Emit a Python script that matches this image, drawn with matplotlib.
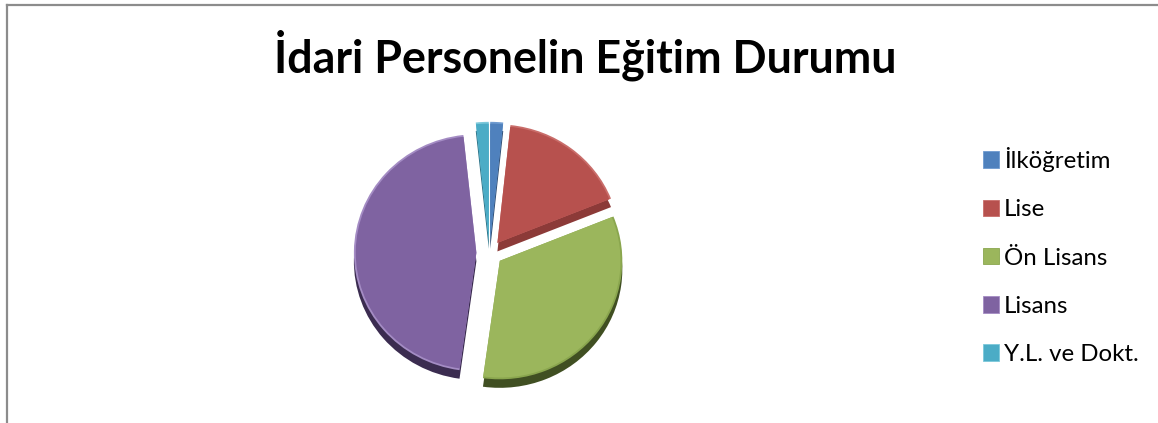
import matplotlib
matplotlib.use("Agg")
import matplotlib.pyplot as plt
from matplotlib.patches import Patch
from matplotlib.lines import Line2D

plt.rcParams['font.family'] = ['Lato', 'DejaVu Sans']

title = "İdari Personelin Eğitim Durumu"
categories = ["İlköğretim", "Lise", "Ön Lisans", "Lisans", "Y.L. ve Dokt."]
values = [1.7, 17.2, 33.3, 46.1, 1.7]
colors = ["#4f81bd", "#b7514e", "#9bb65c", "#7f63a1", "#4bacc6"]
rims = ["#6f9bd0", "#c96d6a", "#8aa64e", "#a48cc4", "#7cc8da"]
shadows = ["#2f4d73", "#8c3a38", "#404f22", "#3b2c50", "#2a7186"]
explode = [0.107] * 5

W, H = 1158, 423
fig = plt.figure(figsize=(W / 100, H / 100), dpi=100)
fig.patch.set_facecolor("white")

ax = fig.add_axes([0, 0, 1, 1])
rx, ry = 122.5, 118.5
cx, cy = 489.5, 253.0

def layer(cols, dy=0.0, radius=1.0):
    ax.pie(values, explode=explode, colors=cols, startangle=90, counterclock=False,
           radius=radius, center=(0, dy), wedgeprops=dict(linewidth=0))
    ax.set_aspect("auto")

# extruded edge, then rim, then the face of the pie
layer(shadows, dy=-0.072)
layer(rims)
layer(colors, radius=0.985)

ax.set_xlim(-cx / rx, (W - cx) / rx)
ax.set_ylim(-(H - cy) / ry, cy / ry)
ax.axis("off")

# chart-area border: only top and left sides are visible
fig.add_artist(Line2D([7.5 / W, 7.5 / W], [0, 1 - 5 / H], color="#8c8c8c", lw=1.6))
fig.add_artist(Line2D([7 / W, 1], [1 - 5 / H, 1 - 5 / H], color="#8c8c8c", lw=1.6))

fig.text(585 / W, 1 - 55 / H, title, ha="center", va="center",
         fontsize=32.2, fontweight="bold", color="black")

handles = [Patch(facecolor=c, edgecolor=s, linewidth=0.6) for c, s in zip(colors, rims)]
fig.legend(handles, categories, loc="upper left",
           bbox_to_anchor=(983 / W, 1 - 147 / H), bbox_transform=fig.transFigure,
           frameon=False, fontsize=17.3, handlelength=0.67, handleheight=0.67,
           handletextpad=0.2, labelspacing=1.135, borderpad=0, borderaxespad=0)

fig.savefig("out.png", dpi=100)
